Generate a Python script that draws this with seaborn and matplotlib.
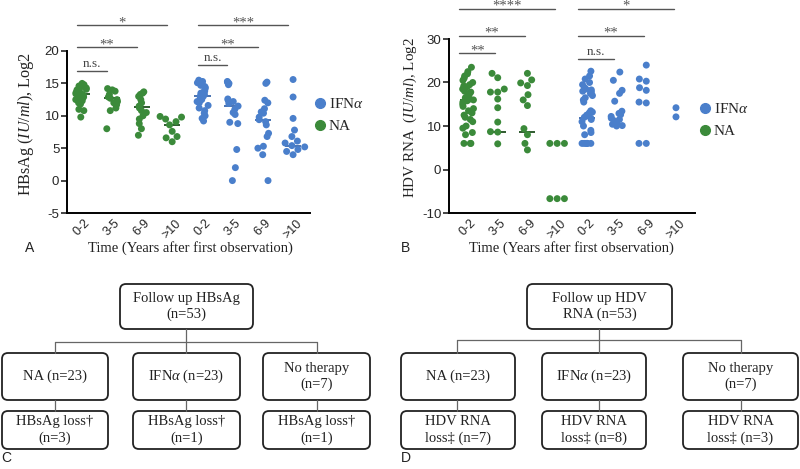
import numpy as np
import pandas as pd
import matplotlib
matplotlib.use("Agg")
import matplotlib.pyplot as plt
import seaborn as sns
from matplotlib.patches import FancyBboxPatch
from matplotlib.lines import Line2D

np.random.seed(3)

# ---------------- data ----------------
time_labels = ["0-2", "3-5", "6-9", ">10"]
group_names = ["IFN$\\alpha$", "NA"]

# Panel A: HBsAg (log2 IU/ml)
hbsag_na = [
    [15.0, 14.8, 14.6, 14.5, 14.3, 14.1, 14.0, 13.8, 13.6, 13.5, 13.4, 13.3, 13.2,
     13.0, 12.9, 12.7, 12.5, 12.3, 12.0, 11.8, 11.0, 10.8, 9.8],
    [14.2, 14.0, 13.8, 13.3, 12.9, 12.7, 12.5, 12.2, 12.0, 11.7, 11.2, 10.8, 8.0],
    [13.7, 13.5, 13.3, 13.0, 12.5, 12.0, 11.5, 11.2, 10.8, 10.5, 10.0, 9.5, 8.8,
     8.0, 7.0],
    [9.9, 9.8, 9.5, 9.1, 8.6, 7.6, 6.8, 6.6, 6.0],
]
hbsag_ifn = [
    [15.5, 15.3, 15.1, 14.9, 14.7, 14.5, 14.3, 14.0, 13.8, 13.5, 13.3, 13.1, 13.0,
     12.8, 12.5, 12.2, 12.0, 11.6, 11.2, 10.8, 10.4, 10.0, 9.6, 9.2],
    [15.3, 15.2, 15.0, 14.8, 12.6, 12.4, 12.2, 11.9, 11.5, 11.0, 10.5, 10.2, 9.0,
     8.8, 4.8, 2.0, 0.0],
    [15.2, 15.0, 12.4, 12.0, 11.1, 10.6, 10.4, 9.8, 9.4, 9.1, 8.6, 7.3, 6.8, 5.3,
     5.0, 4.0, 0.0],
    [15.6, 12.9, 9.6, 7.8, 6.8, 6.1, 5.8, 5.4, 5.2, 4.8, 4.5, 4.0],
]
hbsag_na_center = [13.3, 12.7, 11.3, 8.6]
hbsag_ifn_center = [13.1, 11.5, 9.3, 5.4]

# Panel B: HDV RNA (log2 IU/ml)
hdv_na = [
    [23.5, 22.5, 22.0, 21.5, 21.0, 20.5, 20.0, 19.5, 19.2, 19.0, 18.5, 18.0, 17.8,
     17.5, 17.0, 16.5, 16.2, 16.0, 15.8, 15.5, 15.0, 14.5, 14.0, 13.5, 13.0, 12.5,
     12.0, 11.5, 11.0, 10.0, 9.5, 8.5, 8.0, 6.0, 6.0, 6.0],
    [22.1, 21.1, 18.5, 17.8, 17.8, 16.2, 14.2, 10.9, 8.7, 8.6, 5.9],
    [22.1, 20.6, 19.9, 19.3, 17.2, 16.0, 14.7, 9.4, 8.0, 6.0, 4.5],
    [6.0, 6.0, 6.0, -6.7, -6.7, -6.7],
]
hdv_ifn = [
    [22.6, 21.5, 20.8, 20.0, 19.5, 18.8, 18.5, 18.3, 18.0, 17.8, 17.5, 17.0, 16.5,
     16.0, 15.5, 13.5, 13.2, 13.0, 12.5, 12.0, 11.8, 11.5, 11.0, 10.0, 9.0, 8.5,
     8.0, 6.0, 6.0, 6.0, 6.0, 6.0, 6.0],
    [22.4, 20.5, 18.2, 17.5, 15.7, 13.4, 12.9, 12.6, 12.2, 11.8, 11.5, 11.2, 10.8,
     10.4, 10.1, 10.0],
    [24.0, 20.8, 20.3, 18.8, 18.2, 15.5, 15.3, 6.0, 6.0],
    [14.2, 12.1],
]
hdv_na_center = [16.0, 8.6, 8.7, np.nan]
hdv_ifn_center = [11.9, np.nan, np.nan, np.nan]

# significance annotations: (from index, to index, label, height)
sig_a = [(0, 1, "n.s.", 16.9), (0, 2, "**", 20.6), (0, 3, "*", 24.0),
         (4, 5, "n.s.", 17.8), (4, 6, "**", 20.6), (4, 7, "***", 24.0)]
sig_b = [(0, 1, "**", 26.7), (0, 2, "**", 30.8), (0, 3, "****", 37.0),
         (4, 5, "n.s.", 25.3), (4, 6, "**", 30.8), (4, 7, "*", 37.0)]

ylabel_a = "HBsAg ($\\mathit{IU/ml}$), Log2"
ylabel_b = "HDV RNA  ($\\mathit{IU/ml}$), Log2"
xlabel = "Time (Years after first observation)"

# flowchart texts
fc_c_top = "Follow up HBsAg\n(n=53)"
fc_c_mid = ["NA (n=23)", "IFN$\\alpha$ (n=23)", "No therapy\n(n=7)"]
fc_c_bot = ["HBsAg loss\u2020\n(n=3)", "HBsAg loss\u2020\n(n=1)", "HBsAg loss\u2020\n(n=1)"]
fc_d_top = "Follow up HDV\nRNA (n=53)"
fc_d_mid = ["NA (n=23)", "IFN$\\alpha$ (n=23)", "No therapy\n(n=7)"]
fc_d_bot = ["HDV RNA\nloss\u2021 (n=7)", "HDV RNA\nloss\u2021 (n=8)", "HDV RNA\nloss\u2021 (n=3)"]

GREEN = "#3b8a3a"
BLUE = "#4a7fcb"
GREEN_D = "#1f4f1f"
BLUE_D = "#3a68ad"

# ---------------- style ----------------
sns.set_theme(style="ticks")
plt.rcParams["font.family"] = ["Liberation Serif", "DejaVu Serif"]
plt.rcParams["mathtext.fontset"] = "custom"
plt.rcParams["mathtext.rm"] = "Liberation Serif"
plt.rcParams["mathtext.it"] = "Liberation Serif:italic"
plt.rcParams["mathtext.bf"] = "Liberation Serif:bold"

fig = plt.figure(figsize=(8.0, 4.69), dpi=100)
W, H = 800.0, 469.0


def build_df(na_lists, ifn_lists):
    rows = []
    for i, vals in enumerate(na_lists):
        for v in vals:
            rows.append(("NA " + time_labels[i], v, "NA", len(vals)))
    for i, vals in enumerate(ifn_lists):
        for v in vals:
            rows.append(("IFN " + time_labels[i], v, "IFN", len(vals)))
    return pd.DataFrame(rows, columns=["cat", "value", "group", "n"])


order = ["NA " + t for t in time_labels] + ["IFN " + t for t in time_labels]
pal = {"NA": GREEN, "IFN": BLUE}


def draw_panel(ax, na_lists, ifn_lists, na_c, ifn_c, ylim, yticks, xlim, ylabel,
               ylabel_size, sig, sig_x0, sig_x1, ylabel_x):
    df = build_df(na_lists, ifn_lists)
    dense = df[df["n"] >= 13]
    sparse = df[df["n"] < 13]
    sns.stripplot(data=dense, x="cat", y="value", hue="group", order=order,
                  hue_order=["NA", "IFN"], palette=pal, size=5.0, linewidth=0,
                  jitter=0.2, legend=False, ax=ax, zorder=3)
    sns.swarmplot(data=sparse, x="cat", y="value", hue="group", order=order,
                  hue_order=["NA", "IFN"], palette=pal, size=5.0, linewidth=0,
                  legend=False, ax=ax, zorder=3)
    centers = list(na_c) + list(ifn_c)
    for i, c in enumerate(centers):
        if np.isfinite(c):
            col = GREEN_D if i < 4 else BLUE_D
            ax.plot([i - 0.27, i + 0.27], [c, c], color=col, lw=1.3, zorder=2,
                    solid_capstyle="butt")
    ax.set_ylim(*ylim)
    ax.set_xlim(*xlim)
    ax.set_yticks(yticks)
    ax.set_yticklabels([str(t) for t in yticks], fontfamily="Liberation Sans",
                       fontsize=9.5)
    ax.set_xticks(range(8))
    ax.set_xticklabels(time_labels * 2, rotation=45, ha="center", va="top",
                       fontfamily="Liberation Sans", fontsize=9)
    ax.tick_params(axis="x", length=0, pad=3)
    ax.tick_params(axis="y", length=4, width=1.2, pad=1.5)
    for s in ["top", "right"]:
        ax.spines[s].set_visible(False)
    for s in ["left", "bottom"]:
        ax.spines[s].set_linewidth(1.4)
        ax.spines[s].set_color("black")
    ax.set_xlabel("")
    ax.set_ylabel(ylabel, fontsize=ylabel_size, color="#222222")
    ax.yaxis.set_label_coords(ylabel_x, 0.55)
    for i, j, lab, h in sig:
        x0 = i + sig_x0
        x1 = j + sig_x1
        ax.plot([x0, x1], [h, h], color="#555555", lw=1.0, clip_on=False)
        if lab == "n.s.":
            ax.annotate(lab, ((x0 + x1) / 2, h), xytext=(0, 1),
                        textcoords="offset points", ha="center", va="bottom",
                        fontsize=9.5, color="#444444", annotation_clip=False)
        else:
            ax.annotate(lab, ((x0 + x1) / 2, h), xytext=(0, -0.8),
                        textcoords="offset points", ha="center", va="baseline",
                        fontsize=10.5, color="#555555", annotation_clip=False)


# Panel A
ax_a = fig.add_axes([67 / W, 1 - 213 / H, 243 / W, 162 / H])
draw_panel(ax_a, hbsag_na, hbsag_ifn, hbsag_na_center, hbsag_ifn_center,
           (-5, 20), [-5, 0, 5, 10, 15, 20], (-0.48, 7.56), ylabel_a, 11.6, sig_a,
           -0.15, -0.17, -0.128)

# Panel B
ax_b = fig.add_axes([449 / W, 1 - 213 / H, 246 / W, 174 / H])
draw_panel(ax_b, hdv_na, hdv_ifn, hdv_na_center, hdv_ifn_center,
           (-10, 30), [-10, 0, 10, 20, 30], (-0.64, 7.64), ylabel_b, 10.8, sig_b,
           -0.3, -0.08, -0.122)

# legends
for ax, (lx, ly) in [(ax_a, (312 / W, 1 - 97 / H)), (ax_b, (697 / W, 1 - 102 / H))]:
    handles = [Line2D([], [], marker="o", ls="", color=BLUE, markersize=7),
               Line2D([], [], marker="o", ls="", color=GREEN, markersize=7)]
    fig.legend(handles, group_names, loc="upper left", bbox_to_anchor=(lx, ly),
               frameon=False, fontsize=11, handletextpad=0.1, labelspacing=0.55,
               borderaxespad=0, handlelength=1.0, borderpad=0)

# x labels and panel letters
fig.text(190 / W, 1 - 248 / H, xlabel, ha="center", va="center", fontsize=10.5,
         color="#222222")
fig.text(571 / W, 1 - 248 / H, xlabel, ha="center", va="center", fontsize=10.5,
         color="#222222")
for lab, x, y in [("A", 30, 248), ("B", 405, 248), ("C", 6, 458), ("D", 406, 458)]:
    fig.text(x / W, 1 - y / H, lab, ha="center", va="center", fontsize=10,
             fontfamily="Liberation Sans", color="#222222")

# ---------------- flowcharts ----------------
axf = fig.add_axes([0, 0, 1, 1], zorder=-1)
axf.set_xlim(0, W)
axf.set_ylim(H, 0)
axf.axis("off")


def box(x0, x1, y0, y1, text):
    p = FancyBboxPatch((x0, y0), x1 - x0, y1 - y0,
                       boxstyle="round,pad=0,rounding_size=6",
                       fc="white", ec="#222222", lw=1.3)
    axf.add_patch(p)
    axf.text((x0 + x1) / 2, (y0 + y1) / 2, text, ha="center", va="center",
             fontsize=10.5, color="#222222", linespacing=1.25)


def line(xs, ys):
    axf.plot(xs, ys, color="#666666", lw=0.9)


def flowchart(top, mids, bots, top_x, mid_x, vx, top_y, mid_y, bot_y, hy, cx):
    line([cx, cx], [top_y[1], hy])
    line([vx[0], vx[2]], [hy, hy])
    for k in range(3):
        line([vx[k], vx[k]], [hy, mid_y[0]])
        line([vx[k], vx[k]], [mid_y[1], bot_y[0]])
    box(top_x[0], top_x[1], top_y[0], top_y[1], top)
    for k in range(3):
        box(mid_x[k][0], mid_x[k][1], mid_y[0], mid_y[1], mids[k])
        box(mid_x[k][0], mid_x[k][1], bot_y[0], bot_y[1], bots[k])


flowchart(fc_c_top, fc_c_mid, fc_c_bot, (120, 253),
          [(2, 108), (133, 240), (263, 370)], [55, 186, 317],
          (284, 329), (353, 400), (411, 449), 342, 186)
flowchart(fc_d_top, fc_d_mid, fc_d_bot, (527, 672),
          [(401, 515), (542, 646), (683, 798)], [457, 599, 741],
          (284, 329), (353, 400), (411, 449), 340, 599)

fig.savefig("out.png", dpi=100)
